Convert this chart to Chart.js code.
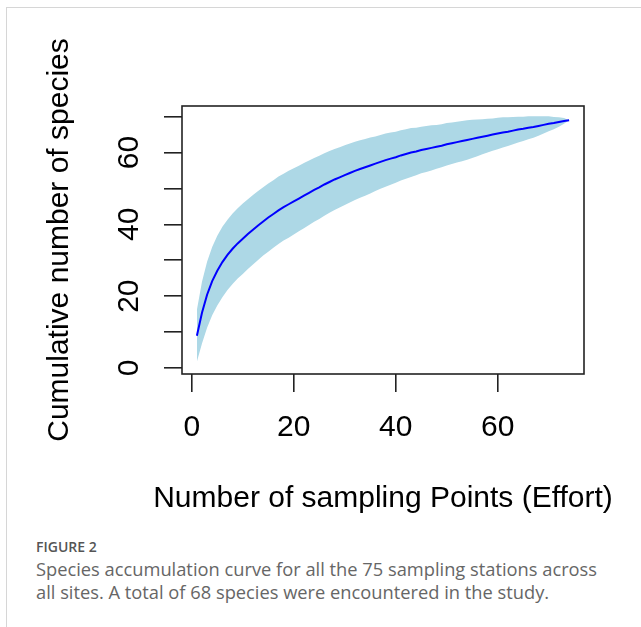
<!DOCTYPE html>
<html>
<head>
<meta charset="utf-8">
<script src="https://cdn.jsdelivr.net/npm/chart.js@4.4.0/dist/chart.umd.min.js"></script>
<style>
  html, body { margin: 0; padding: 0; background: #fff; }
  body { width: 641px; height: 627px; position: relative; overflow: hidden; }
  .frame { position: absolute; left: 6px; top: 7px; right: -2px; bottom: -2px; border-top: 1px solid #d6d6d6; border-left: 1px solid #d6d6d6; }
  #chart { position: absolute; left: 0; top: 0; }
  .fig { position: absolute; left: 36px; top: 537px; font-family: "Open Sans"; font-size: 14px; font-weight: 600; color: #555; }
  .cap { position: absolute; left: 36px; top: 557px; width: 600px; font-family: "Open Sans"; font-size: 18.3px; line-height: 23px; color: #666; }
</style>
</head>
<body>
<div class="frame"></div>
<canvas id="chart" width="641" height="530"></canvas>
<div class="fig">FIGURE 2</div>
<div class="cap">Species accumulation curve for all the 75 sampling stations across<br>all sites. A total of 68 species were encountered in the study.</div>
<script>
// sampling effort (number of points)
const sites = [1, 2, 3, 4, 5, 6, 7, 8, 9, 10, 11, 12, 13, 14, 15, 16, 17, 18, 19, 20,
  21, 22, 23, 24, 25, 26, 27, 28, 29, 30, 31, 32, 33, 34, 35, 36, 37, 38, 39, 40,
  41, 42, 43, 44, 45, 46, 47, 48, 49, 50, 51, 52, 53, 54, 55, 56, 57, 58, 59, 60,
  61, 62, 63, 64, 65, 66, 67, 68, 69, 70, 71, 72, 73, 74]

// mean cumulative richness
const richness = [9.0, 15.4, 20.4, 24.2, 27.1, 29.5, 31.5, 33.2, 34.7, 36.0,
  37.3, 38.5, 39.7, 40.8, 41.9, 42.9, 43.9, 44.8, 45.6, 46.4,
  47.2, 48.0, 48.8, 49.6, 50.3, 51.1, 51.8, 52.5, 53.1, 53.7,
  54.3, 54.9, 55.4, 55.9, 56.4, 56.9, 57.4, 57.9, 58.3, 58.7,
  59.2, 59.6, 60.0, 60.3, 60.7, 61.0, 61.3, 61.6, 61.9, 62.3,
  62.6, 62.9, 63.2, 63.5, 63.8, 64.1, 64.4, 64.7, 65.0, 65.3,
  65.6, 65.8, 66.1, 66.4, 66.6, 66.9, 67.1, 67.4, 67.7, 68.0,
  68.2, 68.5, 68.8, 69.0]

// confidence band edges
const ciLower = [1.8, 6.8, 11.2, 14.7, 17.4, 19.7, 21.7, 23.4, 24.9, 26.2,
  27.6, 28.8, 30.1, 31.3, 32.4, 33.5, 34.5, 35.5, 36.3, 37.2,
  38.1, 38.9, 39.8, 40.7, 41.5, 42.4, 43.2, 44.0, 44.7, 45.4,
  46.1, 46.8, 47.4, 48.0, 48.6, 49.3, 49.9, 50.5, 51.0, 51.6,
  52.2, 52.7, 53.2, 53.7, 54.2, 54.6, 55.0, 55.5, 55.9, 56.4,
  56.8, 57.2, 57.6, 58.0, 58.5, 59.0, 59.5, 60.0, 60.5, 60.9,
  61.4, 61.8, 62.3, 62.8, 63.2, 63.7, 64.1, 64.7, 65.3, 65.9,
  66.5, 67.2, 68.0, 69.0]

const ciUpper = [16.2, 24.0, 29.6, 33.7, 36.8, 39.3, 41.3, 43.0, 44.5, 45.8,
  47.0, 48.2, 49.3, 50.3, 51.4, 52.3, 53.3, 54.1, 54.9, 55.6,
  56.3, 57.1, 57.8, 58.5, 59.1, 59.8, 60.4, 61.0, 61.5, 62.0,
  62.5, 63.0, 63.4, 63.8, 64.2, 64.5, 64.9, 65.3, 65.6, 65.8,
  66.2, 66.5, 66.8, 66.9, 67.2, 67.4, 67.6, 67.7, 67.9, 68.2,
  68.4, 68.6, 68.8, 69.0, 69.1, 69.2, 69.3, 69.4, 69.5, 69.7,
  69.8, 69.8, 69.9, 70.0, 70.0, 70.1, 70.1, 70.1, 70.1, 70.1,
  69.9, 69.8, 69.6, 69.0]

const xTickLabels = [0, 20, 40, 60]
const yTickLabels = [0, 20, 40, 60]
const xTitle = 'Number of sampling Points (Effort)'

const rFont = { family: 'Liberation Sans', size: 30 }

const pts = arr => sites.map((s, i) => ({ x: s, y: arr[i] }))

// R style box round the plot area, plus the x title
// (the scale title gets squeezed to the axis width, so it is drawn here)
const boxPlugin = {
  id: 'box',
  afterDraw(chart) {
    const { ctx, chartArea: a } = chart
    ctx.save()
    ctx.strokeStyle = '#222'
    ctx.lineWidth = 1.6
    ctx.strokeRect(a.left, a.top, a.right - a.left, a.bottom - a.top)
    ctx.fillStyle = '#000'
    ctx.font = '30px "Liberation Sans"'
    ctx.textAlign = 'center'
    ctx.textBaseline = 'middle'
    ctx.fillText(xTitle, (a.left + a.right) / 2, 499)
    ctx.restore()
  },
}

new Chart(document.getElementById('chart').getContext('2d'), {
  type: 'line',
  data: {
    datasets: [
      {
        label: 'lower',
        data: pts(ciLower),
        borderWidth: 0,
        pointRadius: 0,
        fill: false,
        order: 2,
      },
      {
        label: 'upper',
        data: pts(ciUpper),
        borderWidth: 0,
        pointRadius: 0,
        backgroundColor: '#add8e6',
        fill: '-1',
        order: 1,
      },
      {
        label: 'richness',
        data: pts(richness),
        borderColor: '#0000ff',
        borderWidth: 2,
        pointRadius: 0,
        fill: false,
        order: 0,
      },
    ],
  },
  options: {
    responsive: false,
    animation: false,
    layout: { padding: { left: 42, top: 106, right: 57, bottom: 12 } },
    plugins: { legend: { display: false }, tooltip: { enabled: false } },
    scales: {
      x: {
        type: 'linear',
        min: -1.92,
        max: 76.92,
        afterFit(s) { s.height = 144 },
        border: { display: false },
        grid: { drawOnChartArea: false, drawTicks: true, tickLength: 18, color: '#222', lineWidth: 1.6 },
        ticks: {
          stepSize: 20,
          includeBounds: false,
          autoSkip: false,
          maxRotation: 0,
          padding: 18,
          color: '#000',
          font: rFont,
          callback: v => (xTickLabels.includes(v) ? String(v) : ''),
        },
      },
      y: {
        min: -1.67,
        max: 72.96,
        afterFit(s) { s.width = 140 },
        border: { display: false },
        grid: { drawOnChartArea: false, drawTicks: true, tickLength: 18, color: '#222', lineWidth: 1.6 },
        ticks: {
          stepSize: 10,
          includeBounds: false,
          autoSkip: false,
          minRotation: 90,
          maxRotation: 90,
          crossAlign: 'center',
          padding: 18,
          color: '#000',
          font: rFont,
          callback: v => (yTickLabels.includes(v) ? String(v) : ''),
        },
        title: { display: true, text: 'Cumulative number of species', color: '#000', font: rFont, padding: 0 },
      },
    },
  },
  plugins: [boxPlugin],
})
</script>
</body>
</html>
